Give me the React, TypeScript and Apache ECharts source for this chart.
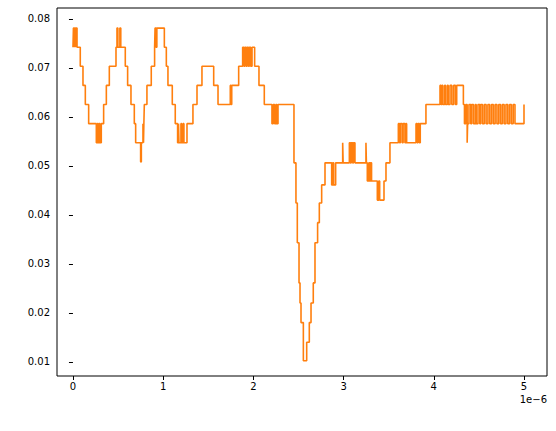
import React, { useEffect, useRef } from "react";
import * as echarts from "echarts";

const xTicks = [0, 1, 2, 3, 4, 5];
const yTicks = [0.01, 0.02, 0.03, 0.04, 0.05, 0.06, 0.07, 0.08];
// step series: [x (µs, ×1e-6), value]; value holds until next x
const stepX = [
  0, 0.005, 0.015, 0.02, 0.03, 0.035, 0.045, 0.081, 0.111, 0.137, 0.174, 0.259, 0.27, 0.28, 0.29, 0.3, 0.314, 0.34, 0.37, 0.403,
  0.477, 0.488, 0.498, 0.52, 0.53, 0.58, 0.606, 0.643, 0.68, 0.695, 0.75, 0.758, 0.776, 0.782, 0.786, 0.791, 0.82, 0.868, 0.905,
  0.91, 0.92, 0.93, 1.013, 1.035, 1.053, 1.101, 1.134, 1.16, 1.17, 1.175, 1.197, 1.205, 1.22, 1.23, 1.264, 1.33, 1.375, 1.43,
  1.56, 1.608, 1.744, 1.752, 1.76, 1.774, 1.837, 1.881, 1.895, 1.905, 1.92, 1.93, 1.945, 1.955, 1.97, 1.985, 2.0, 2.014, 2.062,
  2.121, 2.206, 2.22, 2.235, 2.25, 2.26, 2.273, 2.45, 2.472, 2.487, 2.506, 2.517, 2.528, 2.554, 2.591, 2.62, 2.639, 2.664, 2.683,
  2.712, 2.731, 2.757, 2.794, 2.868, 2.88, 2.89, 2.912, 2.99, 2.995, 3.064, 3.075, 3.085, 3.1, 3.11, 3.126, 3.248, 3.253, 3.263,
  3.28, 3.29, 3.3, 3.31, 3.374, 3.39, 3.4, 3.448, 3.47, 3.514, 3.607, 3.62, 3.63, 3.65, 3.66, 3.68, 3.69, 3.699, 3.803, 3.815,
  3.825, 3.84, 3.85, 3.913, 4.069, 4.08, 4.09, 4.1, 4.12, 4.13, 4.15, 4.16, 4.18, 4.2, 4.22, 4.24, 4.254, 4.328, 4.34, 4.355,
  4.37, 4.375, 4.39, 4.41, 4.42, 4.44, 4.46, 4.47, 4.49, 4.51, 4.52, 4.54, 4.56, 4.58, 4.6, 4.62, 4.64, 4.66, 4.68, 4.7, 4.72,
  4.74, 4.76, 4.78, 4.8, 4.82, 4.84, 4.86, 4.88, 4.9, 5.0,
];
const stepY = [
  0.0742, 0.0781, 0.0742, 0.0781, 0.0742, 0.0781, 0.0742, 0.0703, 0.0664, 0.0625, 0.0586, 0.0547, 0.0586, 0.0547, 0.0586, 0.0547, 0.0586, 0.0625, 0.0664, 0.0703,
  0.0742, 0.0781, 0.0742, 0.0781, 0.0742, 0.0703, 0.0664, 0.0625, 0.0586, 0.0547, 0.0508, 0.0547, 0.0586, 0.0547, 0.0586, 0.0625, 0.0664, 0.0703, 0.0742,
  0.0781, 0.0742, 0.0781, 0.0742, 0.0703, 0.0664, 0.0625, 0.0586, 0.0547, 0.0586, 0.0547, 0.0586, 0.0547, 0.0586, 0.0547, 0.0586, 0.0625, 0.0664, 0.0703,
  0.0664, 0.0625, 0.0664, 0.0625, 0.0664, 0.0664, 0.0703, 0.0742, 0.0703, 0.0742, 0.0703, 0.0742, 0.0703, 0.0742, 0.0703, 0.0742, 0.0742, 0.0703, 0.0664,
  0.0625, 0.0586, 0.0625, 0.0586, 0.0625, 0.0586, 0.0625, 0.0506, 0.0424, 0.0343, 0.0261, 0.022, 0.018, 0.0102, 0.014, 0.018, 0.022, 0.0261, 0.0343,
  0.0384, 0.0424, 0.0461, 0.0506, 0.0461, 0.0506, 0.0461, 0.0506, 0.0547, 0.0506, 0.0547, 0.0506, 0.0547, 0.0506, 0.0547, 0.0506, 0.0547, 0.0506, 0.0469,
  0.0506, 0.0469, 0.0506, 0.0469, 0.043, 0.0469, 0.043, 0.0469, 0.0506, 0.0547, 0.0586, 0.0547, 0.0586, 0.0547, 0.0586, 0.0547, 0.0586, 0.0547, 0.0586, 0.0547,
  0.0586, 0.0547, 0.0586, 0.0625, 0.0664, 0.0625, 0.0664, 0.0625, 0.0664, 0.0625, 0.0664, 0.0625, 0.0664, 0.0625, 0.0664, 0.0625, 0.0664, 0.0625, 0.0586, 0.0625,
  0.0547, 0.0586, 0.0625, 0.0586, 0.0625, 0.0586, 0.0625, 0.0586, 0.0625, 0.0586, 0.0625, 0.0586, 0.0625, 0.0586, 0.0625, 0.0586, 0.0625, 0.0586, 0.0625, 0.0586, 0.0625,
  0.0586, 0.0625, 0.0586, 0.0625, 0.0586, 0.0625, 0.0586, 0.0625, 0.0586, 0.0625, 0.0625,
];

export default function App() {
  const ref = useRef<HTMLDivElement>(null);
  useEffect(() => {
    const chart = echarts.init(ref.current!, null, { renderer: "svg" });
    const font = { fontFamily: "DejaVu Sans", fontSize: 10, color: "#000" };
    chart.setOption({
      animation: false,
      grid: { left: 57, right: 9, top: 8, bottom: 55, show: true, borderColor: "#000", borderWidth: 1 },
      xAxis: {
        type: "value", min: -0.177, max: 5.255,
        axisLine: { show: false },
        splitLine: { show: false },
        axisTick: { show: true, length: 4, customValues: xTicks, lineStyle: { color: "#000" } },
        axisLabel: { ...font, customValues: xTicks, margin: 5, formatter: (v: number) => String(v) },
      },
      yAxis: {
        type: "value", min: 0.0071, max: 0.0822,
        axisLine: { show: false },
        splitLine: { show: false },
        axisTick: { show: true, length: 4, customValues: yTicks, lineStyle: { color: "#000" } },
        axisLabel: { ...font, customValues: yTicks, margin: 7, formatter: (v: number) => v.toFixed(2) },
      },
      graphic: [{ type: "text", right: 9, top: 394, style: { text: "1e\u22126", font: "10px DejaVu Sans", fill: "#000" } }],
      series: [{
        type: "line", step: "end", symbol: "none",
        data: stepX.map((x, i) => [x, stepY[i]]),
        lineStyle: { color: "#ff7f0e", width: 1.6 },
      }],
    });
    return () => chart.dispose();
  }, []);
  return <div ref={ref} style={{ position: "fixed", left: 0, top: 0, width: 556, height: 431, background: "#fff" }} />;
}
